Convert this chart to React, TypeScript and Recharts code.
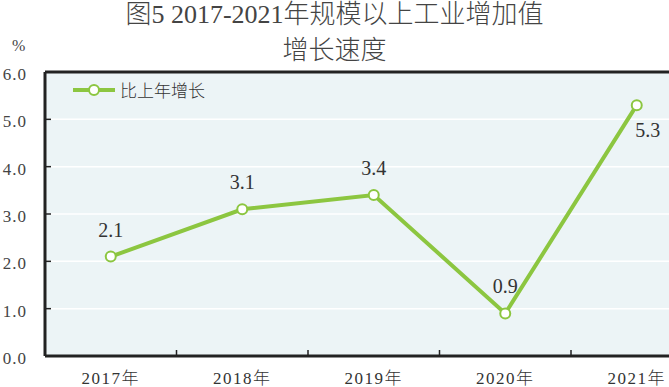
import React from "react";
import {
  LineChart,
  Line,
  XAxis,
  YAxis,
  CartesianGrid,
  LabelList,
  ReferenceLine,
} from "recharts";

const years = ["2017年", "2018年", "2019年", "2020年", "2021年"];
const growth = [2.1, 3.1, 3.4, 0.9, 5.3];
const yTicks = [0, 1, 2, 3, 4, 5, 6];

const data = years.map((year, i) => ({ year, growth: growth[i] }));

const GREEN = "#8cc640";
const AXIS = "#222";
const SERIF = '"Liberation Serif", "DejaVu Serif", serif';
const CJK = '"Noto Sans CJK SC", "Noto Sans", sans-serif';
const MIXED = `"Liberation Serif", ${CJK}`;
const HALF_BAND = 65.75;
const AXIS_Y = 356;

function YTick(props: any) {
  const { y, payload } = props;
  return (
    <g>
      {payload.value > 0 && payload.value < 6 && (
        <line x1={45} x2={51} y1={y} y2={y} stroke={AXIS} strokeWidth={1.5} />
      )}
      <text
        x={27}
        y={y + 8}
        textAnchor="end"
        fontFamily={SERIF}
        fontSize={17}
        letterSpacing={1}
        fill="#444"
      >
        {payload.value.toFixed(1)}
      </text>
    </g>
  );
}

function XTick(props: any) {
  const { x, payload, index } = props;
  return (
    <g>
      {index > 0 && (
        <line
          x1={x - HALF_BAND}
          x2={x - HALF_BAND}
          y1={AXIS_Y}
          y2={AXIS_Y - 6}
          stroke={AXIS}
          strokeWidth={1.5}
        />
      )}
      <text
        x={x}
        y={AXIS_Y + 28}
        textAnchor="middle"
        fontFamily={MIXED}
        fontWeight={300}
        fontSize={17}
        letterSpacing={1.5}
        fill="#333"
      >
        {payload.value}
      </text>
    </g>
  );
}

function PointLabel(props: any) {
  const { x, y, value, index } = props;
  const last = index === growth.length - 1;
  return (
    <text
      x={last ? x + 11 : x}
      y={last ? y + 32 : y - 20}
      textAnchor="middle"
      fontFamily={SERIF}
      fontSize={20}
      fill="#333"
    >
      {Number(value).toFixed(1)}
    </text>
  );
}

export default function App() {
  return (
    <div
      style={{
        position: "fixed",
        left: 0,
        top: 0,
        width: 669,
        height: 387,
        overflow: "hidden",
        background: "#fff",
      }}
    >
      <div
        style={{
          position: "absolute",
          top: -3,
          width: 669,
          textAlign: "center",
          fontFamily: MIXED,
          fontWeight: 300,
          fontSize: 26,
          lineHeight: "36px",
          color: "#444",
          zIndex: 2,
        }}
      >
        <div>图5 2017-2021年规模以上工业增加值</div>
        <div>增长速度</div>
      </div>
      <div
        style={{
          position: "absolute",
          left: 12,
          top: 37,
          fontFamily: SERIF,
          fontSize: 16,
          color: "#444",
        }}
      >
        %
      </div>
      <div
        style={{
          position: "absolute",
          left: 71,
          top: 77,
          display: "flex",
          alignItems: "center",
          zIndex: 2,
        }}
      >
        <svg width={46} height={22}>
          <line x1={2} x2={44} y1={11} y2={11} stroke={GREEN} strokeWidth={4} />
          <circle cx={23} cy={11} r={5} fill="#fff" stroke={GREEN} strokeWidth={2} />
        </svg>
        <span
          style={{
            fontFamily: CJK,
            fontWeight: 300,
            fontSize: 17,
            color: "#333",
            marginLeft: 3,
          }}
        >
          比上年增长
        </span>
      </div>
      <LineChart
        width={720}
        height={387}
        data={data}
        margin={{ top: 72, right: 17.5, bottom: 0, left: 0 }}
      >
        <CartesianGrid
          vertical={false}
          stroke="#fff"
          strokeWidth={1.5}
          fill="#ecf4f6"
        />
        <XAxis
          dataKey="year"
          height={31}
          padding={{ left: HALF_BAND, right: HALF_BAND }}
          axisLine={{ stroke: AXIS, strokeWidth: 3 }}
          tickLine={false}
          tick={<XTick />}
          interval={0}
        />
        <YAxis
          width={45}
          domain={[0, 6]}
          ticks={yTicks}
          axisLine={{ stroke: AXIS, strokeWidth: 3 }}
          tickLine={false}
          tick={<YTick />}
        />
        <ReferenceLine y={6} stroke={AXIS} strokeWidth={3} />
        <Line
          type="linear"
          dataKey="growth"
          stroke={GREEN}
          strokeWidth={4}
          dot={{ r: 5, fill: "#fff", stroke: GREEN, strokeWidth: 2 }}
          isAnimationActive={false}
        >
          <LabelList dataKey="growth" content={<PointLabel />} />
        </Line>
      </LineChart>
    </div>
  );
}
